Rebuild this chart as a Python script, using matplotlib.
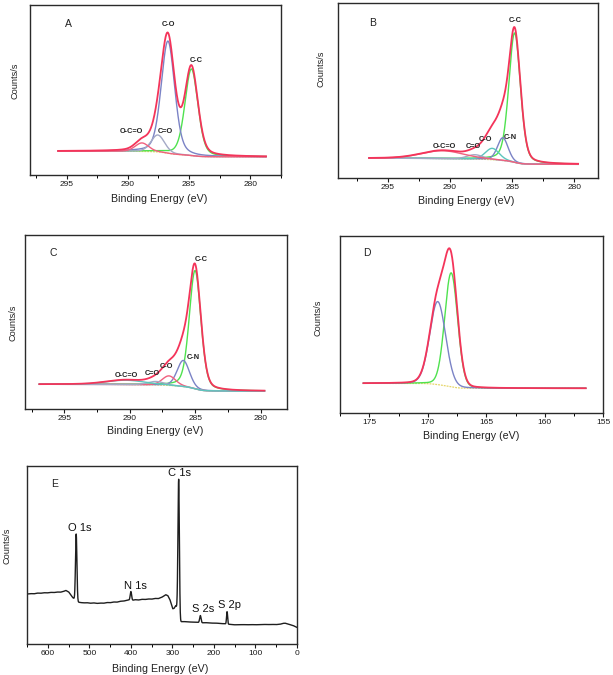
import numpy as np
import matplotlib
matplotlib.use("Agg")
import matplotlib.pyplot as plt
from matplotlib.ticker import MultipleLocator, NullLocator

plt.rcParams['font.family'] = ['Liberation Sans', 'DejaVu Sans']

W, H = 613, 675

# ---------------- data ----------------
# C 1s panels: components = (label, centre eV, height above background, FWHM eV, lorentz fraction)
A_names   = ["C-C", "C-O", "C=O", "O-C=O"]
A_centres = [284.8, 286.72, 287.55, 288.85]
A_heights = [0.51, 0.66, 0.10, 0.05]
A_fwhm    = [1.25, 1.30, 1.30, 1.30]
A_eta     = [0.3, 0.3, 0.2, 0.2]
A_bg      = [0.140, 0.107]          # background high-BE side, low-BE side
A_range   = [295.7, 278.7]
A_extra   = [286.0, 0.0, 2.0]       # envelope excess not covered by drawn components (centre, height, FWHM)

B_names   = ["C-C", "C-N", "C-O", "C=O", "O-C=O"]
B_centres = [284.8, 285.75, 286.6, 288.0, 290.6]
B_heights = [0.74, 0.13, 0.065, 0.025, 0.045]
B_fwhm    = [1.10, 1.00, 1.30, 1.50, 4.0]
B_eta     = [0.3, 0.2, 0.2, 0.2, 0.2]
B_bg      = [0.113, 0.078]
B_range   = [296.5, 279.7]
B_extra   = [286.4, 0.09, 2.0]

C_names   = ["C-C", "C-N", "C-O", "C=O", "O-C=O"]
C_centres = [285.0, 285.9, 287.0, 288.0, 290.3]
C_heights = [0.68, 0.15, 0.055, 0.02, 0.025]
C_fwhm    = [1.05, 1.10, 1.20, 1.50, 3.5]
C_eta     = [0.3, 0.2, 0.2, 0.2, 0.2]
C_bg      = [0.142, 0.103]
C_range   = [296.9, 279.7]
C_extra   = [286.6, 0.06, 2.0]

# S 2p panel
D_centres = [168.0, 169.15]
D_heights = [0.645, 0.47]
D_fwhm    = [1.30, 1.60]
D_eta     = [0.1, 0.1]
D_bg      = [0.166, 0.138]
D_range   = [175.5, 156.5]
D_extra   = [168.5, 0.0, 2.0]

# survey spectrum: background points (BE, height) and peaks
E_base_be = [650, 642, 634, 626, 618, 610, 602, 594, 586, 578, 570, 563, 557, 550, 544, 540,
             536, 533, 529, 522, 514, 506, 498, 490, 482, 474, 466, 458, 450, 442, 434, 426,
             418, 410, 405, 398, 390, 382, 374, 366, 358, 350, 342, 334, 326, 320, 316, 311,
             306, 302, 299, 296, 292, 288, 281, 272, 262, 252, 242, 236, 228, 220, 210, 200,
             192, 184, 176, 165, 158, 150, 140, 130, 120, 110, 100, 90, 80, 70, 60, 50, 40,
             33, 28, 24, 18, 12, 7, 3, 0]
E_base_y  = [0.281, 0.283, 0.282, 0.286, 0.285, 0.288, 0.287, 0.290, 0.289, 0.292, 0.291,
             0.295, 0.301, 0.292, 0.272, 0.260, 0.253, 0.252, 0.236, 0.233, 0.231, 0.232,
             0.229, 0.231, 0.228, 0.230, 0.229, 0.233, 0.232, 0.236, 0.235, 0.240, 0.241,
             0.245, 0.247, 0.244, 0.249, 0.247, 0.251, 0.250, 0.253, 0.252, 0.256, 0.255,
             0.262, 0.270, 0.277, 0.272, 0.250, 0.222, 0.198, 0.200, 0.215, 0.200, 0.125,
             0.126, 0.124, 0.123, 0.122, 0.121, 0.119, 0.120, 0.118, 0.117, 0.117, 0.115,
             0.114, 0.111, 0.110, 0.108, 0.108, 0.109, 0.108, 0.109, 0.108, 0.109, 0.110,
             0.109, 0.110, 0.109, 0.111, 0.116, 0.117, 0.114, 0.110, 0.106, 0.102, 0.097, 0.094]
E_peaks   = ["O 1s", "N 1s", "C 1s", "S 2s", "S 2p"]
E_centres = [532, 400, 284.8, 232.5, 168]
E_heights = [0.37, 0.05, 0.76, 0.04, 0.07]
E_fwhm    = [4.0, 4.0, 4.0, 4.0, 3.0]

# ---------------- helpers ----------------
def pv(x, c, h, w, eta):
    g = np.exp(-4 * np.log(2) * ((x - c) / w) ** 2)
    l = 1.0 / (1.0 + (2 * (x - c) / w) ** 2)
    return h * (eta * l + (1 - eta) * g)

def shirley(x, total, bg):
    order = np.argsort(x)
    cum = np.cumsum(total[order])
    frac = np.empty_like(x)
    frac[order] = cum / cum[-1]
    return bg[1] + (bg[0] - bg[1]) * frac

def add_axes(l, r, t, b):
    return fig.add_axes([l / W, 1 - b / H, (r - l) / W, (b - t) / H])

def style(ax, xlim, major, minor):
    ax.set_xlim(*xlim)
    ax.set_ylim(0, 1)
    ax.yaxis.set_major_locator(NullLocator())
    ax.xaxis.set_major_locator(MultipleLocator(major))
    ax.xaxis.set_minor_locator(MultipleLocator(minor))
    ax.tick_params(axis='x', which='major', direction='out', length=3, width=0.8,
                   labelsize=6, pad=1.5, colors='#1a1a1a')
    ax.tick_params(axis='x', which='minor', direction='out', length=1.8, width=0.7)
    for s in ax.spines.values():
        s.set_linewidth(1.0)
        s.set_color('#2a2a2a')

def ftext(x, y, s, **kw):
    fig.text(x / W, 1 - y / H, s, ha='center', va='center', **kw)

fig = plt.figure(figsize=(W / 100, H / 100), dpi=100)

RED = '#f4345a'
BLUE = '#7b83c6'
GREEN = '#4fe24f'
YELLOW = '#e6d66a'
CYAN = '#5cc6bd'
GREY = '#a4a9c6'
PINK = '#f0607e'

def fit_panel(ax, colors, centres, heights, fwhm, eta, bg, rng, extra, n=800):
    x = np.linspace(rng[0], rng[1], n)
    comps = [pv(x, c, h, w, e) for c, h, w, e in zip(centres, heights, fwhm, eta)]
    ex = pv(x, extra[0], extra[1], extra[2], 0.0)
    total = np.sum(comps, axis=0) + ex
    b = shirley(x, total, bg)
    ax.plot(x, b, color=YELLOW, lw=0.9, ls=(0, (1.5, 0.8)))
    for comp, col in zip(comps, colors):
        ax.plot(x, b + comp, color=col, lw=1.0)
    ax.plot(x, b + total, color=RED, lw=1.3)

# ---- A ----
axA = add_axes(30, 280.7, 5, 175)
style(axA, (298, 277.5), 5, 2.5)
fit_panel(axA, [GREEN, BLUE, GREY, PINK], A_centres, A_heights, A_fwhm, A_eta, A_bg, A_range, A_extra)

# ---- B ----
axB = add_axes(338, 598, 3, 178)
style(axB, (299, 278.1), 5, 2.5)
fit_panel(axB, [GREEN, BLUE, CYAN, GREY, PINK], B_centres, B_heights, B_fwhm, B_eta, B_bg, B_range, B_extra)

# ---- C ----
axC = add_axes(25, 286.7, 235, 409)
style(axC, (298, 278), 5, 2.5)
fit_panel(axC, [GREEN, BLUE, PINK, GREY, CYAN], C_centres, C_heights, C_fwhm, C_eta, C_bg, C_range, C_extra)

# ---- D ----
axD = add_axes(340, 603.3, 236, 412.7)
style(axD, (177.5, 155), 5, 2.5)
fit_panel(axD, [GREEN, BLUE], D_centres, D_heights, D_fwhm, D_eta, D_bg, D_range, D_extra)

# ---- E ----
axE = add_axes(27.3, 296.7, 466, 644)
style(axE, (650, 0), 100, 50)
xe = np.linspace(650, 0, 3000)
ye = np.interp(xe, E_base_be[::-1], E_base_y[::-1])
for c, h, w in zip(E_centres, E_heights, E_fwhm):
    ye = ye + pv(xe, c, h, w, 0.0)
axE.plot(xe, ye, color='#1e1e1e', lw=1.0)

# ---------------- texts ----------------
lab = dict(fontsize=7.7, color='#222222')
ylab = dict(fontsize=6.6, color='#222222', rotation=90)
ftext(159, 198.5, "Binding Energy (eV)", **lab)
ftext(466, 201.5, "Binding Energy (eV)", **lab)
ftext(155, 430.5, "Binding Energy (eV)", **lab)
ftext(471, 436, "Binding Energy (eV)", **lab)
ftext(160, 669, "Binding Energy (eV)", **lab)
ftext(15, 81, "Counts/s", **ylab)
ftext(320.7, 69, "Counts/s", **ylab)
ftext(13.3, 322.5, "Counts/s", **ylab)
ftext(318.3, 318, "Counts/s", **ylab)
ftext(6.7, 546, "Counts/s", **ylab)

pl = dict(fontsize=7.5, color='#222222')
ftext(68.3, 24, "A", **pl)
ftext(372.7, 22.7, "B", **pl)
ftext(53.3, 253.3, "C", **pl)
ftext(366.7, 252.7, "D", **pl)
ftext(55, 484.3, "E", **pl)

pk = dict(fontsize=5.3, color='#222222', fontweight='bold')
# A
ftext(168.3, 25, A_names[1], **pk)
ftext(196.7, 60, A_names[0], **pk)
ftext(131.7, 131.7, A_names[3], **pk)
ftext(165.7, 131.7, A_names[2], **pk)
# B
ftext(515, 20, B_names[0], **pk)
ftext(444, 146.7, B_names[4], **pk)
ftext(473.3, 146.7, B_names[3], **pk)
ftext(485.7, 139.3, B_names[2], **pk)
ftext(510.7, 137.3, B_names[1], **pk)
# C
ftext(201.7, 259.3, C_names[0], **pk)
ftext(193.3, 357.3, C_names[1], **pk)
ftext(166.7, 366, C_names[2], **pk)
ftext(152.7, 373.3, C_names[3], **pk)
ftext(126.7, 375.3, C_names[4], **pk)
# E
el = dict(fontsize=8, color='#111111')
ftext(80, 528.3, E_peaks[0], **el)
ftext(135, 585.7, E_peaks[1], **el)
ftext(180, 473.3, E_peaks[2], **el)
ftext(202.7, 609, E_peaks[3], **el)
ftext(230, 605, E_peaks[4], **el)

fig.savefig("out.png", dpi=100)
